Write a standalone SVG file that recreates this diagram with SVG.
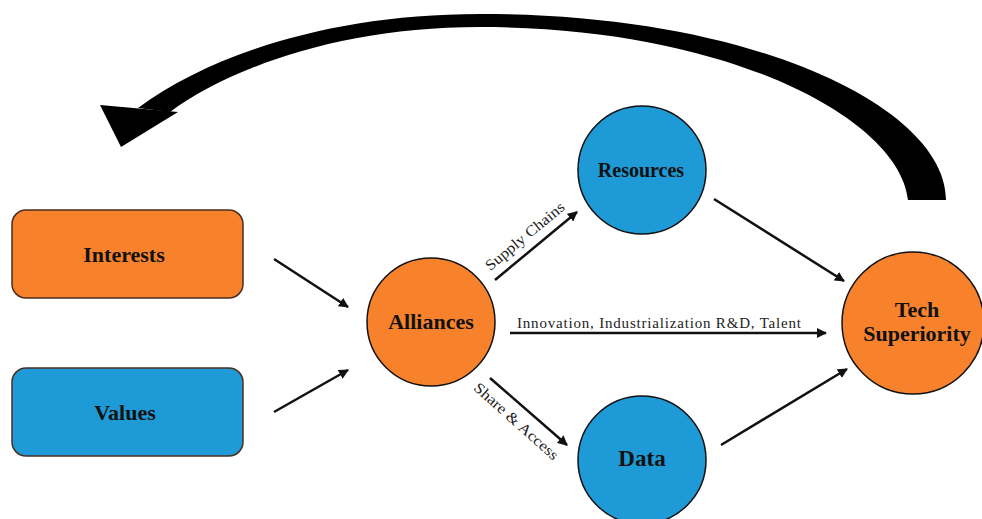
<svg xmlns="http://www.w3.org/2000/svg" width="982" height="519" viewBox="0 0 982 519">
<style>
.box{stroke:#4a2e22;stroke-width:1.5}
.org{fill:#F7822B}
.blu{fill:#1E9AD6}
.circ{stroke:#111;stroke-width:1.5}
.lbl{font-family:"Liberation Serif","Times New Roman",serif;font-weight:bold;fill:#111;text-anchor:middle}
.edge{font-family:"Liberation Serif","Times New Roman",serif;fill:#222;font-size:15px;text-anchor:middle}
.conn line{stroke:#111;stroke-width:2.5;marker-end:url(#ah)}
</style>
<defs>
<marker id="ah" viewBox="0 0 10 10" refX="9" refY="5" markerWidth="4" markerHeight="4" markerUnits="strokeWidth" orient="auto">
<path d="M0 0 L10 5 L0 10 Z" fill="#111"/>
</marker>
</defs>
<g id="feedback">
<path d="M946 200 C946 110 760 14 480 14 C330 14 210 55 138 108 L170 112 C230 68 340 27 480 27 C730 27 900 120 908 200 Z" fill="#000"/>
<path d="M100 105 L178 112 L121 147 Z" fill="#000"/>
</g>
<g class="conn" id="connectors">
<line x1="274" y1="259" x2="348" y2="307"/>
<line x1="274" y1="412" x2="348" y2="370"/>
<line x1="495" y1="280" x2="577" y2="212"/>
<line x1="714" y1="199" x2="844" y2="281"/>
<line x1="510" y1="333" x2="826" y2="333"/>
<line x1="490" y1="378" x2="567" y2="445"/>
<line x1="721" y1="445" x2="847" y2="369"/>
</g>
<g id="edge-labels">
<text class="edge" transform="translate(528,240) rotate(-39.7)" textLength="98" lengthAdjust="spacingAndGlyphs">Supply Chains</text>
<text class="edge" x="659" y="328" textLength="284" lengthAdjust="spacing">Innovation, Industrialization R&amp;D, Talent</text>
<text class="edge" transform="translate(513,425) rotate(41.7)" textLength="108" lengthAdjust="spacingAndGlyphs">Share &amp; Access</text>
</g>
<g id="interests">
<rect class="box org" x="12" y="210" width="231" height="88" rx="14"/>
<text class="lbl" x="124" y="262" font-size="22">Interests</text>
</g>
<g id="values">
<rect class="box blu" x="12" y="368" width="231" height="88" rx="14"/>
<text class="lbl" x="125" y="420" font-size="22">Values</text>
</g>
<g id="alliances">
<circle class="circ org" cx="431" cy="322" r="64"/>
<text class="lbl" x="431" y="329" font-size="22">Alliances</text>
</g>
<g id="resources">
<circle class="circ blu" cx="642" cy="170" r="64"/>
<text class="lbl" x="641" y="177" font-size="20">Resources</text>
</g>
<g id="data">
<circle class="circ blu" cx="642" cy="460" r="64"/>
<text class="lbl" x="642" y="466" font-size="23">Data</text>
</g>
<g id="tech">
<circle class="circ org" cx="913" cy="323" r="71"/>
<text class="lbl" x="917" y="317" font-size="22">Tech</text>
<text class="lbl" x="917" y="341" font-size="22">Superiority</text>
</g>
</svg>
